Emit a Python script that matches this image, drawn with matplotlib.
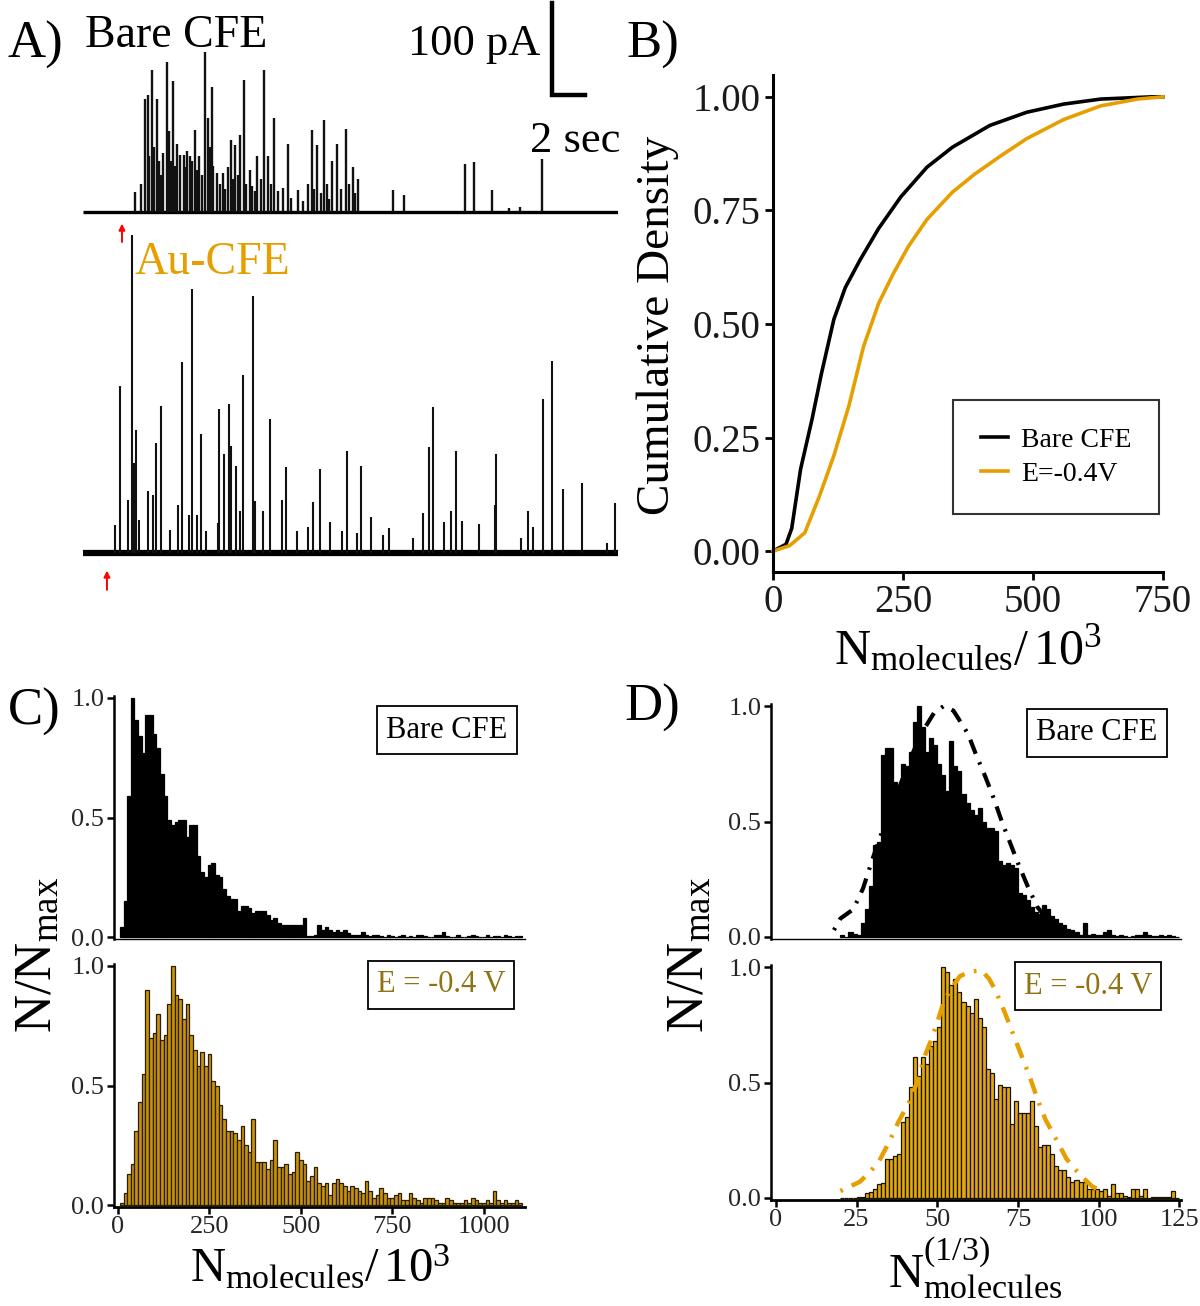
import numpy as np
import matplotlib
matplotlib.use("Agg")
from matplotlib import pyplot as plt

plt.rcParams['font.family'] = ['Liberation Serif', 'DejaVu Serif']
plt.rcParams['mathtext.fontset'] = 'custom'
plt.rcParams['mathtext.rm'] = 'Liberation Serif'
plt.rcParams['mathtext.it'] = 'Liberation Serif:italic'
plt.rcParams['mathtext.bf'] = 'Liberation Serif:bold'

ORANGE = '#E69F00'
GOLD = '#C8920F'
OLIVE = '#8F7414'

# ---- panel A: amperometric traces (time in s, amplitude in pA)
trace_duration = 32.4
bare_spike_t = [3.15, 3.5, 3.76, 3.94, 4.0, 4.18, 4.3, 4.48, 4.6, 4.7, 4.85, 5.09, 5.21, 5.3,
                5.45, 5.6, 5.7, 5.9, 6.12, 6.2, 6.3, 6.48, 6.6, 6.79, 6.9, 7.03, 7.2, 7.39,
                7.58, 7.7, 7.82, 7.9, 8.12, 8.3, 8.48, 8.6, 8.8, 8.97, 9.1, 9.21, 9.4, 9.52,
                9.76, 9.9, 10.1, 10.24, 10.4, 10.55, 10.8, 10.97, 11.21, 11.4, 11.58, 11.8,
                12.12, 12.42, 12.6, 13.03, 13.3, 13.6, 13.88, 14.0, 14.18, 14.4, 14.61, 14.8,
                14.91, 15.1, 15.39, 15.6, 15.94, 16.1, 16.36, 16.5, 16.67, 18.79, 19.45,
                23.15, 23.7, 24.79, 25.82, 26.48, 27.82]
bare_spike_a = [21, 30, 122, 127, 60, 154, 70, 122, 55, 40, 64, 163, 88, 55,
                142, 50, 73, 62, 62, 48, 66, 61, 55, 89, 45, 61, 40, 173,
                102, 70, 136, 50, 42, 30, 42, 25, 48, 78, 35, 72, 40, 83,
                143, 30, 45, 28, 22, 61, 35, 154, 61, 30, 102, 22,
                26, 74, 15, 23, 12, 30, 89, 25, 72, 20, 100, 30,
                14, 55, 73, 25, 90, 30, 48, 20, 35, 23, 18,
                52, 54, 23, 4, 5, 57]
au_spike_t = [1.94, 2.24, 2.73, 2.97, 3.09, 3.21, 3.39, 3.94, 4.24, 4.42, 4.73, 5.27, 5.76,
              6.0, 6.42, 6.61, 6.91, 7.15, 7.45, 8.18, 8.24, 8.55, 8.85, 8.97, 9.27, 9.52,
              9.7, 10.3, 10.42, 10.91, 11.33, 12.06, 12.3, 12.97, 13.64, 13.94, 14.36,
              14.97, 15.7, 16.0, 16.61, 16.85, 17.45, 18.18, 18.55, 20.0, 20.61, 20.97,
              21.21, 21.88, 22.3, 22.61, 22.97, 24.0, 24.97, 25.03, 26.55, 26.97, 27.27,
              27.88, 28.42, 29.09, 30.24, 31.76, 32.24]
au_spike_a = [30, 182, 58, 346, 98, 134, 36, 67, 63, 120, 160, 25, 52,
              208, 41, 287, 41, 129, 24, 33, 157, 108, 162, 116, 95, 46,
              193, 279, 57, 46, 146, 58, 93, 24, 28, 55, 91,
              34, 24, 111, 22, 95, 39, 20, 27, 16, 43, 115,
              159, 34, 46, 111, 35, 32, 52, 108, 16, 46, 28,
              167, 209, 70, 76, 11, 54]
bare_offset = 371
bare_arrow_t = 2.36
au_arrow_t = 1.45

# ---- panel B: cumulative densities (N / 10^3)
cdf_bare_x = [0, 25, 36, 53, 75, 93, 117, 139, 167, 203, 246, 296, 345, 417, 488, 559, 630, 730, 750]
cdf_bare_y = [0, 0.015, 0.05, 0.18, 0.29, 0.39, 0.51, 0.58, 0.64, 0.71, 0.78, 0.845, 0.889,
              0.937, 0.966, 0.984, 0.995, 1.0, 1.0]
cdf_au_x = [0, 32, 61, 89, 117, 146, 174, 203, 231, 260, 296, 345, 388, 438, 488, 559, 630, 701, 750]
cdf_au_y = [0, 0.012, 0.04, 0.12, 0.21, 0.32, 0.45, 0.545, 0.61, 0.67, 0.73, 0.79, 0.83,
            0.87, 0.908, 0.95, 0.98, 0.995, 1.0]

# ---- panel C: histograms of N / 10^3 (bin width 10, centres 10..1100)
c_bin_width = 10
c_bare = [0.04, 0.15, 0.59, 1.00, 0.91, 0.84, 0.77, 0.93, 0.93, 0.85,
          0.79, 0.68, 0.59, 0.49, 0.47, 0.48, 0.49, 0.49, 0.42, 0.47,
          0.47, 0.34, 0.27, 0.25, 0.30, 0.31, 0.26, 0.25, 0.20, 0.17,
          0.16, 0.16, 0.11, 0.13, 0.13, 0.12, 0.10, 0.11, 0.11, 0.11,
          0.09, 0.07, 0.08, 0.06, 0.05, 0.05, 0.05, 0.05, 0.05, 0.05,
          0.08, 0.005, 0.005, 0.01, 0.05, 0.03, 0.04, 0.03, 0.02, 0.03,
          0.02, 0.03, 0.015, 0.01, 0.01, 0.01, 0.02, 0.01, 0.005, 0.01,
          0.01, 0.005, 0.0, 0.01, 0.005, 0.0, 0.005, 0.01, 0.0, 0.005,
          0.0, 0.01, 0.01, 0.005, 0.0, 0.0, 0.01, 0.01, 0.02, 0.005,
          0.0, 0.0, 0.01, 0.0, 0.0, 0.005, 0.01, 0.005, 0.0, 0.0,
          0.01, 0.0, 0.005, 0.005, 0.0, 0.01, 0.005, 0.0, 0.005, 0.005]
c_au = [0.01, 0.05, 0.13, 0.17, 0.31, 0.43, 0.55, 0.90, 0.70, 0.72,
        0.80, 0.69, 0.71, 0.84, 1.00, 0.88, 0.86, 0.78, 0.84, 0.71,
        0.65, 0.58, 0.64, 0.58, 0.63, 0.52, 0.50, 0.42, 0.36, 0.31,
        0.31, 0.30, 0.27, 0.33, 0.25, 0.22, 0.36, 0.18, 0.18, 0.18,
        0.15, 0.19, 0.27, 0.16, 0.16, 0.17, 0.13, 0.14, 0.22, 0.19,
        0.17, 0.10, 0.12, 0.16, 0.09, 0.08, 0.09, 0.04, 0.09, 0.11,
        0.09, 0.08, 0.06, 0.08, 0.07, 0.06, 0.05, 0.10, 0.06, 0.03,
        0.04, 0.07, 0.05, 0.03, 0.03, 0.04, 0.05, 0.02, 0.02, 0.05,
        0.03, 0.02, 0.01, 0.03, 0.03, 0.03, 0.02, 0.01, 0.01, 0.03,
        0.02, 0.01, 0.01, 0.01, 0.02, 0.01, 0.03, 0.02, 0.01, 0.01,
        0.02, 0.01, 0.06, 0.02, 0.01, 0.02, 0.01, 0.01, 0.02, 0.01]

# ---- panel D: histograms of N^(1/3) (bin width 1.25 from 20 to 125)
d_start = 20
d_bin_width = 1.25
d_bare = [0.01, 0.0, 0.02, 0.015, 0.01, 0.06, 0.12, 0.22, 0.40, 0.41,
          0.79, 0.82, 0.82, 0.67, 0.64, 0.75, 0.74, 0.80, 0.93, 1.00,
          0.91, 0.80, 0.86, 0.83, 0.75, 0.70, 0.63, 0.85, 0.74, 0.72,
          0.62, 0.58, 0.55, 0.53, 0.56, 0.50, 0.47, 0.47, 0.46, 0.33,
          0.31, 0.32, 0.31, 0.30, 0.19, 0.18, 0.16, 0.13, 0.11, 0.10,
          0.14, 0.12, 0.09, 0.08, 0.06, 0.05, 0.035, 0.03, 0.02, 0.01,
          0.06, 0.01, 0.015, 0.01, 0.01, 0.02, 0.03, 0.01, 0.005, 0.01,
          0.005, 0.0, 0.005, 0.01, 0.01, 0.02, 0.01, 0.005, 0.005, 0.01,
          0.005, 0.01, 0.005, 0.0]
d_au = [0.0, 0.0, 0.0, 0.0, 0.005, 0.005, 0.02, 0.025, 0.04, 0.06,
        0.065, 0.17, 0.17, 0.18, 0.19, 0.33, 0.35, 0.48, 0.61, 0.53,
        0.61, 0.58, 0.66, 0.68, 0.74, 1.00, 0.98, 0.92, 0.95, 0.89,
        0.85, 0.83, 0.80, 0.86, 0.78, 0.74, 0.56, 0.54, 0.43, 0.49,
        0.48, 0.48, 0.32, 0.42, 0.37, 0.37, 0.37, 0.42, 0.31, 0.22,
        0.23, 0.23, 0.19, 0.14, 0.12, 0.12, 0.09, 0.07, 0.08, 0.07,
        0.07, 0.04, 0.04, 0.04, 0.03, 0.04, 0.01, 0.06, 0.02, 0.02,
        0.01, 0.005, 0.04, 0.04, 0.01, 0.04, 0.0, 0.005, 0.005, 0.005,
        0.005, 0.005, 0.03, 0.0]
fit_bare_x = [18, 20, 24, 27, 30, 33, 37, 41, 45, 49, 52, 55, 59.5, 62, 65, 67.5, 70, 72.5,
              75, 78, 81, 85, 90]
fit_bare_y = [0.03, 0.08, 0.12, 0.21, 0.34, 0.46, 0.60, 0.75, 0.88, 0.97, 1.0, 0.98, 0.88,
              0.79, 0.69, 0.60, 0.50, 0.41, 0.32, 0.22, 0.13, 0.06, 0.02]
fit_au_x = [20, 23, 26, 29, 32, 35, 38, 41.5, 44, 46, 48, 50, 52, 54, 57, 60, 63.7, 66, 68,
            71, 73.5, 76, 78.5, 81, 83.5, 87, 90, 93, 95, 98, 101]
fit_au_y = [0.03, 0.05, 0.07, 0.11, 0.16, 0.24, 0.33, 0.42, 0.51, 0.61, 0.68, 0.76, 0.85,
            0.90, 0.96, 0.98, 0.985, 0.95, 0.90, 0.80, 0.71, 0.62, 0.53, 0.43, 0.34, 0.25,
            0.17, 0.12, 0.09, 0.05, 0.03]

W, H = 1200, 1306
fig = plt.figure(figsize=(W / 100, H / 100), dpi=100)


def fx(px):
    return px / W


def fy(py):
    return 1 - py / H


def px_axes(x0, y0, x1, y1):
    return fig.add_axes([fx(x0), fy(y1), (x1 - x0) / W, (y1 - y0) / H])


# ================= A
axA = px_axes(83, 0, 618, 600)
axA.set_xlim(0, trace_duration)
axA.set_ylim(-51, 601)
axA.axis('off')
axA.plot([0, trace_duration], [bare_offset, bare_offset], color='black', lw=2.4,
         solid_capstyle='butt')
axA.vlines(bare_spike_t, bare_offset, bare_offset + np.array(bare_spike_a), color='#111111', lw=1.7)
axA.plot([0, trace_duration], [0, 0], color='black', lw=4.5, solid_capstyle='butt')
axA.vlines(au_spike_t, 0, au_spike_a, color='#111111', lw=1.5)
axA.annotate('', xy=(bare_arrow_t, bare_offset - 10), xytext=(bare_arrow_t, bare_offset - 36),
             arrowprops=dict(arrowstyle='-|>', color='red', lw=1.4, mutation_scale=9),
             annotation_clip=False)
axA.annotate('', xy=(au_arrow_t, -16), xytext=(au_arrow_t, -43),
             arrowprops=dict(arrowstyle='-|>', color='red', lw=1.4, mutation_scale=9),
             annotation_clip=False)
# scale bar: 100 pA, 2 sec
axA.plot([28.4, 28.4, 30.4], [598, 498, 498], color='black', lw=3.2, clip_on=False,
         solid_joinstyle='miter')
axA.text(27.7, 553, '100 pA', ha='right', va='center', fontsize=32)
axA.text(29.8, 448, '2 sec', ha='center', va='center', fontsize=32)
axA.text(0.1, 562, 'Bare CFE', ha='left', va='center', fontsize=33)
axA.text(3.1, 316, 'Au-CFE', ha='left', va='center', fontsize=33, color=ORANGE)
fig.text(fx(8), fy(45), 'A)', ha='left', va='center', fontsize=38)

# ================= B
axB = px_axes(773, 75, 1163, 572)
axB.plot(cdf_bare_x, cdf_bare_y, color='black', lw=2.6, label='Bare CFE', clip_on=False)
axB.plot(cdf_au_x, cdf_au_y, color=ORANGE, lw=2.6, label='E=-0.4V', clip_on=False)
axB.set_xlim(0, 750)
axB.set_ylim(-0.046, 1.048)
axB.set_xticks([0, 250, 500, 750])
axB.set_yticks([0, 0.25, 0.5, 0.75, 1.0])
axB.set_yticklabels(['0.00', '0.25', '0.50', '0.75', '1.00'])
for s in ['top', 'right']:
    axB.spines[s].set_visible(False)
for s in ['left', 'bottom']:
    axB.spines[s].set_linewidth(2.2)
axB.tick_params(labelsize=28, length=6, width=2, pad=3, labelcolor='#1a1a1a')
leg = axB.legend(loc='center', bbox_to_anchor=(fx(1056), fy(457)), bbox_transform=fig.transFigure,
                 fontsize=20, frameon=True, fancybox=False, edgecolor='black',
                 handlelength=1.0, handletextpad=0.45, borderpad=1.0, labelspacing=0.3)
leg.get_frame().set_linewidth(1.5)
fig.text(fx(658), fy(325), 'Cumulative Density', rotation=90, ha='center', va='center', fontsize=34)
fig.text(fx(968), fy(650), r'$\mathrm{N_{molecules}/\,10^3}$', ha='center', va='center', fontsize=36)
fig.text(fx(626), fy(45), 'B)', ha='left', va='center', fontsize=38)


# ================= C and D
def hist_axes(box, xlim, centers, heights, width, fill, edge, bottom_axis, xticks=None):
    ax = px_axes(*box)
    ax.bar(centers, heights, width=width, color=fill, edgecolor=edge, linewidth=0.9)
    ax.set_xlim(*xlim)
    ax.set_ylim(-0.01, 1.01)
    ax.set_yticks([0, 0.5, 1.0])
    ax.set_yticklabels(['0.0', '0.5', '1.0'])
    for s in ['top', 'right']:
        ax.spines[s].set_visible(False)
    ax.spines['left'].set_linewidth(1.8)
    ax.tick_params(axis='y', labelsize=19, length=5, width=1.8, pad=2, labelcolor='#262626')
    if bottom_axis:
        ax.spines['bottom'].set_linewidth(2.0)
        ax.set_xticks(xticks)
        ax.tick_params(axis='x', labelsize=19, length=5, width=1.8, pad=1, labelcolor='#262626')
    else:
        ax.spines['bottom'].set_linewidth(1.0)
        ax.set_xticks([])
    return ax


c_centers = c_bin_width * np.arange(1, len(c_bare) + 1)
d_centers = d_start + d_bin_width * (np.arange(len(d_bare)) + 0.5)

axC1 = hist_axes((114, 695.6, 525, 939.4), (-11, 1113), c_centers, c_bare, c_bin_width,
                 'black', 'black', False)
axC2 = hist_axes((114, 963.6, 525, 1207.4), (-11, 1113), c_centers, c_au, c_bin_width,
                 GOLD, '#2a1f00', True, [0, 250, 500, 750, 1000])
axD1 = hist_axes((771, 703.7, 1181, 939.3), (-1.5, 125.5), d_centers, d_bare, d_bin_width,
                 'black', 'black', False)
axD2 = hist_axes((771, 964.7, 1181, 1200.3), (-1.5, 125.5), d_centers, d_au, d_bin_width,
                 '#E3A712', '#1a1400', True, [0, 25, 50, 75, 100, 125])
axD1.plot(fit_bare_x, fit_bare_y, color='black', lw=3.0, linestyle=(0, (0.6, 2.2, 3.6, 2.2)),
          dash_capstyle='butt')
axD2.plot(fit_au_x, fit_au_y, color=ORANGE, lw=3.2, linestyle=(0, (0.6, 2.2, 3.6, 2.2)),
          dash_capstyle='butt')

box_style = dict(boxstyle='square,pad=0.3', fc='white', ec='black', lw=1.3)
fig.text(fx(447), fy(730), 'Bare CFE', ha='center', va='center', fontsize=22, bbox=box_style)
fig.text(fx(441), fy(985), 'E = -0.4 V', ha='center', va='center', fontsize=22, color=OLIVE,
         bbox=box_style)
fig.text(fx(1097), fy(733), 'Bare CFE', ha='center', va='center', fontsize=22, bbox=box_style)
fig.text(fx(1088), fy(986), 'E = -0.4 V', ha='center', va='center', fontsize=22, color=OLIVE,
         bbox=box_style)

fig.text(fx(38), fy(955), r'$\mathrm{N/N_{max}}$', rotation=90, ha='center', va='center', fontsize=38)
fig.text(fx(690), fy(955), r'$\mathrm{N/N_{max}}$', rotation=90, ha='center', va='center', fontsize=38)
fig.text(fx(320), fy(1268), r'$\mathrm{N_{molecules}/\,10^3}$', ha='center', va='center', fontsize=35)
fig.text(fx(975), fy(1268), r'$\mathrm{N_{molecules}^{(1/3)}}$', ha='center', va='center', fontsize=35)
fig.text(fx(8), fy(712), 'C)', ha='left', va='center', fontsize=38)
fig.text(fx(624), fy(708), 'D)', ha='left', va='center', fontsize=38)

fig.savefig('out.png', dpi=100)
